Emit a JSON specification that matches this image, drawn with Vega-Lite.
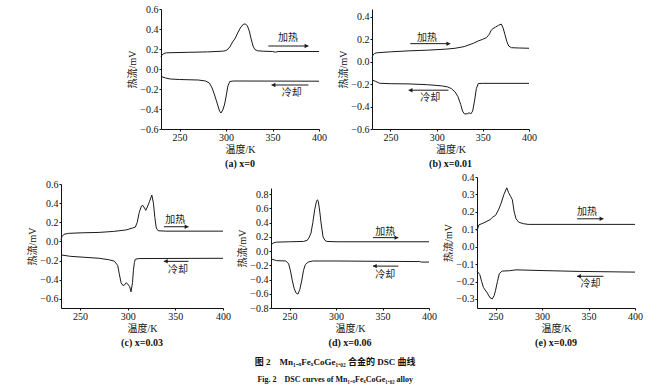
{
"$schema": "https://vega.github.io/schema/vega-lite/v6.json",
"padding": {"left": 27, "top": 4, "right": 5, "bottom": 2},
"config": {
  "font": "Liberation Serif",
  "view": {"stroke": null},
  "style": {"guide-label": {"font": "Liberation Serif"}, "guide-title": {"font": "Liberation Serif, Noto Sans CJK SC"}},
  "axis": {"labelFont": "Liberation Serif", "labelFontSize": 10, "labelColor": "#111", "titleFont": "Liberation Serif, Noto Sans CJK SC", "titleFontSize": 10, "titleFontWeight": "normal", "titleColor": "#111", "grid": false, "domainColor": "#111", "tickColor": "#111", "tickSize": 2, "labelPadding": 1, "titlePadding": 2, "labelFlush": false}
},
"title": {"text": "图 2　Mn₁₋ₓFeₓCoGe₁.₀₂ 合金的 DSC 曲线", "subtitle": "Fig. 2　DSC curves of Mn₁₋ₓFeₓCoGe₁.₀₂ alloy", "orient": "bottom", "anchor": "middle", "font": "Liberation Serif, Noto Sans CJK SC", "fontSize": 9, "fontWeight": "bold", "color": "#111", "subtitleFont": "Liberation Serif, Noto Sans CJK SC", "subtitleFontSize": 8, "subtitleFontWeight": "bold", "subtitleColor": "#111", "offset": 10, "subtitlePadding": 9},
"datasets": {
"curves": [
{"p":"a","c":"h","T":230,"v":0.12},{"p":"a","c":"h","T":231,"v":0.14},{"p":"a","c":"h","T":233,"v":0.155},{"p":"a","c":"h","T":236,"v":0.162},{"p":"a","c":"h","T":245,"v":0.164},{"p":"a","c":"h","T":260,"v":0.167},{"p":"a","c":"h","T":280,"v":0.171},{"p":"a","c":"h","T":296,"v":0.178},{"p":"a","c":"h","T":299,"v":0.182},{"p":"a","c":"h","T":301,"v":0.19},{"p":"a","c":"h","T":304,"v":0.22},{"p":"a","c":"h","T":307,"v":0.27},{"p":"a","c":"h","T":310,"v":0.31},{"p":"a","c":"h","T":313,"v":0.37},{"p":"a","c":"h","T":316,"v":0.42},{"p":"a","c":"h","T":319,"v":0.45},{"p":"a","c":"h","T":321,"v":0.45},{"p":"a","c":"h","T":323,"v":0.43},{"p":"a","c":"h","T":325,"v":0.38},{"p":"a","c":"h","T":327,"v":0.3},{"p":"a","c":"h","T":329,"v":0.23},{"p":"a","c":"h","T":331,"v":0.195},{"p":"a","c":"h","T":334,"v":0.182},{"p":"a","c":"h","T":340,"v":0.178},{"p":"a","c":"h","T":350,"v":0.175},{"p":"a","c":"h","T":353,"v":0.168},{"p":"a","c":"h","T":356,"v":0.175},{"p":"a","c":"h","T":400,"v":0.175},
{"p":"a","c":"k","T":230,"v":-0.075},{"p":"a","c":"k","T":235,"v":-0.09},{"p":"a","c":"k","T":240,"v":-0.1},{"p":"a","c":"k","T":250,"v":-0.105},{"p":"a","c":"k","T":270,"v":-0.11},{"p":"a","c":"k","T":278,"v":-0.12},{"p":"a","c":"k","T":282,"v":-0.14},{"p":"a","c":"k","T":285,"v":-0.19},{"p":"a","c":"k","T":288,"v":-0.27},{"p":"a","c":"k","T":291,"v":-0.36},{"p":"a","c":"k","T":293,"v":-0.42},{"p":"a","c":"k","T":294.5,"v":-0.44},{"p":"a","c":"k","T":296.5,"v":-0.41},{"p":"a","c":"k","T":298.5,"v":-0.35},{"p":"a","c":"k","T":300.5,"v":-0.25},{"p":"a","c":"k","T":302,"v":-0.17},{"p":"a","c":"k","T":304,"v":-0.125},{"p":"a","c":"k","T":308,"v":-0.12},{"p":"a","c":"k","T":400,"v":-0.122},
{"p":"b","c":"h","T":230,"v":0.03},{"p":"b","c":"h","T":231,"v":0.06},{"p":"b","c":"h","T":233,"v":0.075},{"p":"b","c":"h","T":236,"v":0.08},{"p":"b","c":"h","T":250,"v":0.088},{"p":"b","c":"h","T":270,"v":0.097},{"p":"b","c":"h","T":290,"v":0.103},{"p":"b","c":"h","T":310,"v":0.112},{"p":"b","c":"h","T":320,"v":0.12},{"p":"b","c":"h","T":330,"v":0.135},{"p":"b","c":"h","T":340,"v":0.165},{"p":"b","c":"h","T":345,"v":0.185},{"p":"b","c":"h","T":350,"v":0.2},{"p":"b","c":"h","T":354,"v":0.215},{"p":"b","c":"h","T":357,"v":0.245},{"p":"b","c":"h","T":359,"v":0.28},{"p":"b","c":"h","T":361,"v":0.295},{"p":"b","c":"h","T":364,"v":0.31},{"p":"b","c":"h","T":367,"v":0.325},{"p":"b","c":"h","T":370,"v":0.335},{"p":"b","c":"h","T":372,"v":0.3},{"p":"b","c":"h","T":374,"v":0.24},{"p":"b","c":"h","T":376,"v":0.18},{"p":"b","c":"h","T":378,"v":0.14},{"p":"b","c":"h","T":381,"v":0.125},{"p":"b","c":"h","T":390,"v":0.122},{"p":"b","c":"h","T":400,"v":0.12},
{"p":"b","c":"k","T":230,"v":-0.165},{"p":"b","c":"k","T":234,"v":-0.175},{"p":"b","c":"k","T":238,"v":-0.192},{"p":"b","c":"k","T":250,"v":-0.196},{"p":"b","c":"k","T":270,"v":-0.198},{"p":"b","c":"k","T":290,"v":-0.205},{"p":"b","c":"k","T":305,"v":-0.215},{"p":"b","c":"k","T":312,"v":-0.225},{"p":"b","c":"k","T":316,"v":-0.24},{"p":"b","c":"k","T":320,"v":-0.27},{"p":"b","c":"k","T":323,"v":-0.31},{"p":"b","c":"k","T":326,"v":-0.38},{"p":"b","c":"k","T":328,"v":-0.44},{"p":"b","c":"k","T":330,"v":-0.465},{"p":"b","c":"k","T":333,"v":-0.465},{"p":"b","c":"k","T":335,"v":-0.455},{"p":"b","c":"k","T":337,"v":-0.465},{"p":"b","c":"k","T":339,"v":-0.44},{"p":"b","c":"k","T":341,"v":-0.35},{"p":"b","c":"k","T":343,"v":-0.24},{"p":"b","c":"k","T":345,"v":-0.195},{"p":"b","c":"k","T":350,"v":-0.193},{"p":"b","c":"k","T":400,"v":-0.193},
{"p":"c","c":"h","T":230,"v":0.02},{"p":"c","c":"h","T":231,"v":0.05},{"p":"c","c":"h","T":233,"v":0.075},{"p":"c","c":"h","T":238,"v":0.085},{"p":"c","c":"h","T":250,"v":0.09},{"p":"c","c":"h","T":270,"v":0.095},{"p":"c","c":"h","T":285,"v":0.105},{"p":"c","c":"h","T":298,"v":0.12},{"p":"c","c":"h","T":305,"v":0.14},{"p":"c","c":"h","T":308,"v":0.15},{"p":"c","c":"h","T":310,"v":0.2},{"p":"c","c":"h","T":312,"v":0.3},{"p":"c","c":"h","T":314,"v":0.36},{"p":"c","c":"h","T":315.5,"v":0.38},{"p":"c","c":"h","T":317,"v":0.36},{"p":"c","c":"h","T":319,"v":0.325},{"p":"c","c":"h","T":321,"v":0.37},{"p":"c","c":"h","T":323,"v":0.42},{"p":"c","c":"h","T":325.3,"v":0.485},{"p":"c","c":"h","T":327,"v":0.4},{"p":"c","c":"h","T":328.5,"v":0.25},{"p":"c","c":"h","T":330,"v":0.14},{"p":"c","c":"h","T":332,"v":0.112},{"p":"c","c":"h","T":340,"v":0.108},{"p":"c","c":"h","T":400,"v":0.108},
{"p":"c","c":"k","T":230,"v":-0.14},{"p":"c","c":"k","T":240,"v":-0.155},{"p":"c","c":"k","T":255,"v":-0.165},{"p":"c","c":"k","T":270,"v":-0.175},{"p":"c","c":"k","T":280,"v":-0.19},{"p":"c","c":"k","T":286,"v":-0.205},{"p":"c","c":"k","T":289.5,"v":-0.25},{"p":"c","c":"k","T":291,"v":-0.33},{"p":"c","c":"k","T":293,"v":-0.43},{"p":"c","c":"k","T":295,"v":-0.46},{"p":"c","c":"k","T":297,"v":-0.45},{"p":"c","c":"k","T":298.5,"v":-0.43},{"p":"c","c":"k","T":300,"v":-0.445},{"p":"c","c":"k","T":302,"v":-0.47},{"p":"c","c":"k","T":303.5,"v":-0.525},{"p":"c","c":"k","T":305,"v":-0.43},{"p":"c","c":"k","T":306,"v":-0.3},{"p":"c","c":"k","T":307,"v":-0.22},{"p":"c","c":"k","T":308,"v":-0.185},{"p":"c","c":"k","T":312,"v":-0.178},{"p":"c","c":"k","T":400,"v":-0.175},
{"p":"d","c":"h","T":230,"v":0.09},{"p":"d","c":"h","T":233,"v":0.115},{"p":"d","c":"h","T":236,"v":0.125},{"p":"d","c":"h","T":250,"v":0.13},{"p":"d","c":"h","T":265,"v":0.135},{"p":"d","c":"h","T":269,"v":0.15},{"p":"d","c":"h","T":271,"v":0.19},{"p":"d","c":"h","T":273,"v":0.25},{"p":"d","c":"h","T":275,"v":0.4},{"p":"d","c":"h","T":277,"v":0.58},{"p":"d","c":"h","T":279,"v":0.7},{"p":"d","c":"h","T":280,"v":0.72},{"p":"d","c":"h","T":281,"v":0.69},{"p":"d","c":"h","T":282.5,"v":0.55},{"p":"d","c":"h","T":284,"v":0.38},{"p":"d","c":"h","T":286,"v":0.2},{"p":"d","c":"h","T":288,"v":0.15},{"p":"d","c":"h","T":290,"v":0.135},{"p":"d","c":"h","T":300,"v":0.13},{"p":"d","c":"h","T":400,"v":0.13},
{"p":"d","c":"k","T":230,"v":-0.11},{"p":"d","c":"k","T":236,"v":-0.135},{"p":"d","c":"k","T":246,"v":-0.14},{"p":"d","c":"k","T":249,"v":-0.18},{"p":"d","c":"k","T":251,"v":-0.28},{"p":"d","c":"k","T":253,"v":-0.42},{"p":"d","c":"k","T":255,"v":-0.53},{"p":"d","c":"k","T":257,"v":-0.59},{"p":"d","c":"k","T":259,"v":-0.605},{"p":"d","c":"k","T":261,"v":-0.54},{"p":"d","c":"k","T":263,"v":-0.42},{"p":"d","c":"k","T":265,"v":-0.27},{"p":"d","c":"k","T":267,"v":-0.19},{"p":"d","c":"k","T":270,"v":-0.155},{"p":"d","c":"k","T":275,"v":-0.14},{"p":"d","c":"k","T":300,"v":-0.14},{"p":"d","c":"k","T":350,"v":-0.145},{"p":"d","c":"k","T":390,"v":-0.148},{"p":"d","c":"k","T":392,"v":-0.155},{"p":"d","c":"k","T":400,"v":-0.155},
{"p":"e","c":"h","T":230,"v":0.09},{"p":"e","c":"h","T":232,"v":0.125},{"p":"e","c":"h","T":237,"v":0.136},{"p":"e","c":"h","T":244,"v":0.155},{"p":"e","c":"h","T":247,"v":0.17},{"p":"e","c":"h","T":250,"v":0.18},{"p":"e","c":"h","T":253,"v":0.21},{"p":"e","c":"h","T":256,"v":0.25},{"p":"e","c":"h","T":259,"v":0.3},{"p":"e","c":"h","T":262,"v":0.338},{"p":"e","c":"h","T":264,"v":0.31},{"p":"e","c":"h","T":266,"v":0.29},{"p":"e","c":"h","T":268,"v":0.27},{"p":"e","c":"h","T":270,"v":0.2},{"p":"e","c":"h","T":272,"v":0.16},{"p":"e","c":"h","T":275,"v":0.14},{"p":"e","c":"h","T":280,"v":0.132},{"p":"e","c":"h","T":285,"v":0.128},{"p":"e","c":"h","T":300,"v":0.128},{"p":"e","c":"h","T":400,"v":0.128},
{"p":"e","c":"k","T":230,"v":-0.14},{"p":"e","c":"k","T":233,"v":-0.16},{"p":"e","c":"k","T":235,"v":-0.2},{"p":"e","c":"k","T":237,"v":-0.235},{"p":"e","c":"k","T":241,"v":-0.265},{"p":"e","c":"k","T":244,"v":-0.293},{"p":"e","c":"k","T":246.5,"v":-0.3},{"p":"e","c":"k","T":248.5,"v":-0.28},{"p":"e","c":"k","T":250,"v":-0.25},{"p":"e","c":"k","T":252,"v":-0.2},{"p":"e","c":"k","T":254,"v":-0.155},{"p":"e","c":"k","T":257,"v":-0.14},{"p":"e","c":"k","T":265,"v":-0.138},{"p":"e","c":"k","T":272,"v":-0.133},{"p":"e","c":"k","T":300,"v":-0.137},{"p":"e","c":"k","T":340,"v":-0.142},{"p":"e","c":"k","T":400,"v":-0.146}
],
"ann": [
{"p":"a","k":"arrow","T":345.5,"T2":388.6,"v":0.23},{"p":"a","k":"head","T":386.6,"v":0.23,"shape":"triangle-right"},{"p":"a","k":"label","T":366.7,"v":0.31,"label":"加热"},
{"p":"a","k":"arrow","T":349,"T2":388.6,"v":-0.16},{"p":"a","k":"head","T":351,"v":-0.16,"shape":"triangle-left"},{"p":"a","k":"label","T":370.7,"v":-0.237,"label":"冷却"},
{"p":"b","k":"arrow","T":271.5,"T2":314.7,"v":0.161},{"p":"b","k":"head","T":312.7,"v":0.161,"shape":"triangle-right"},{"p":"b","k":"label","T":289.5,"v":0.215,"label":"加热"},
{"p":"b","k":"arrow","T":269.7,"T2":312.8,"v":-0.254},{"p":"b","k":"head","T":271.7,"v":-0.254,"shape":"triangle-left"},{"p":"b","k":"label","T":293,"v":-0.328,"label":"冷却"},
{"p":"c","k":"arrow","T":337.9,"T2":363.8,"v":0.154},{"p":"c","k":"head","T":361.8,"v":0.154,"shape":"triangle-right"},{"p":"c","k":"label","T":350,"v":0.225,"label":"加热"},
{"p":"c","k":"arrow","T":337.9,"T2":363.8,"v":-0.207},{"p":"c","k":"head","T":339.9,"v":-0.207,"shape":"triangle-left"},{"p":"c","k":"label","T":352.8,"v":-0.295,"label":"冷却"},
{"p":"d","k":"arrow","T":339.7,"T2":367,"v":0.188},{"p":"d","k":"head","T":365,"v":0.188,"shape":"triangle-right"},{"p":"d","k":"label","T":353,"v":0.273,"label":"加热"},
{"p":"d","k":"arrow","T":339.7,"T2":367,"v":-0.212},{"p":"d","k":"head","T":341.7,"v":-0.212,"shape":"triangle-left"},{"p":"d","k":"label","T":353,"v":-0.33,"label":"冷却"},
{"p":"e","k":"arrow","T":337.7,"T2":366,"v":0.16},{"p":"e","k":"head","T":364,"v":0.16,"shape":"triangle-right"},{"p":"e","k":"label","T":348.3,"v":0.2,"label":"加热"},
{"p":"e","k":"arrow","T":337.7,"T2":366,"v":-0.17},{"p":"e","k":"head","T":339.7,"v":-0.17,"shape":"triangle-left"},{"p":"e","k":"label","T":352,"v":-0.215,"label":"冷却"}
]
},
"spacing": 3,
"vconcat": [
{"hconcat": [
  {"width": 47, "height": 120, "data": {"values": []}, "mark": "text", "encoding": {}},
  {"width": 158, "height": 120,
   "title": {"text": "(a) x=0", "orient": "bottom", "anchor": "middle", "offset": 5, "font": "Liberation Serif", "fontSize": 10, "fontWeight": "bold", "color": "#111"},
   "encoding": {"x": {"field": "T", "type": "quantitative", "scale": {"domain": [230, 400], "nice": false, "zero": false}, "axis": {"title": "温度/K", "values": [250, 300, 350, 400], "format": "d", "labelFont": "Liberation Serif"}},
                "y": {"field": "v", "type": "quantitative", "scale": {"domain": [-0.6, 0.6], "nice": false, "zero": false}, "axis": {"title": "热流/mV", "values": [-0.6, -0.4, -0.2, 0, 0.2, 0.4, 0.6], "format": ".1f", "labelFont": "Liberation Serif"}}},
   "layer": [
    {"data": {"name": "curves"}, "transform": [{"filter": "datum.p=='a'"}], "mark": {"type": "line", "color": "#1a1a1a", "strokeWidth": 1}, "encoding": {"detail": {"field": "c"}}},
    {"data": {"name": "ann"}, "transform": [{"filter": "datum.p=='a' && datum.k=='arrow'"}], "mark": {"type": "rule", "color": "#1a1a1a", "strokeWidth": 1}, "encoding": {"x2": {"field": "T2"}}},
    {"data": {"name": "ann"}, "transform": [{"filter": "datum.p=='a' && datum.k=='head'"}], "mark": {"type": "point", "filled": true, "color": "#1a1a1a", "opacity": 1, "size": 20}, "encoding": {"shape": {"field": "shape", "type": "nominal", "scale": null}}},
    {"data": {"name": "ann"}, "transform": [{"filter": "datum.p=='a' && datum.k=='label'"}], "mark": {"type": "text", "font": "Noto Sans CJK SC", "fontSize": 10, "color": "#1a1a1a"}, "encoding": {"text": {"field": "label"}}}
   ]},
  {"width": 157, "height": 120,
   "title": {"text": "(b) x=0.01", "orient": "bottom", "anchor": "middle", "offset": 5, "font": "Liberation Serif", "fontSize": 10, "fontWeight": "bold", "color": "#111"},
   "encoding": {"x": {"field": "T", "type": "quantitative", "scale": {"domain": [230, 400], "nice": false, "zero": false}, "axis": {"title": "温度/K", "values": [250, 300, 350, 400], "format": "d", "labelFont": "Liberation Serif"}},
                "y": {"field": "v", "type": "quantitative", "scale": {"domain": [-0.6, 0.47], "nice": false, "zero": false}, "axis": {"title": "热流/mV", "values": [-0.6, -0.4, -0.2, 0, 0.2, 0.4], "format": ".1f", "labelFont": "Liberation Serif"}}},
   "layer": [
    {"data": {"name": "curves"}, "transform": [{"filter": "datum.p=='b'"}], "mark": {"type": "line", "color": "#1a1a1a", "strokeWidth": 1}, "encoding": {"detail": {"field": "c"}}},
    {"data": {"name": "ann"}, "transform": [{"filter": "datum.p=='b' && datum.k=='arrow'"}], "mark": {"type": "rule", "color": "#1a1a1a", "strokeWidth": 1}, "encoding": {"x2": {"field": "T2"}}},
    {"data": {"name": "ann"}, "transform": [{"filter": "datum.p=='b' && datum.k=='head'"}], "mark": {"type": "point", "filled": true, "color": "#1a1a1a", "opacity": 1, "size": 20}, "encoding": {"shape": {"field": "shape", "type": "nominal", "scale": null}}},
    {"data": {"name": "ann"}, "transform": [{"filter": "datum.p=='b' && datum.k=='label'"}], "mark": {"type": "text", "font": "Noto Sans CJK SC", "fontSize": 10, "color": "#1a1a1a"}, "encoding": {"text": {"field": "label"}}}
   ]}
 ], "spacing": 53, "bounds": "flush"},
{"hconcat": [
  {"width": 162, "height": 131,
   "title": {"text": "(c) x=0.03", "orient": "bottom", "anchor": "middle", "offset": 5, "font": "Liberation Serif", "fontSize": 10, "fontWeight": "bold", "color": "#111"},
   "encoding": {"x": {"field": "T", "type": "quantitative", "scale": {"domain": [230, 400], "nice": false, "zero": false}, "axis": {"title": "温度/K", "values": [250, 300, 350, 400], "format": "d", "labelFont": "Liberation Serif"}},
                "y": {"field": "v", "type": "quantitative", "scale": {"domain": [-0.694, 0.6], "range": [131, 7], "nice": false, "zero": false}, "axis": {"title": "热流/mV", "values": [-0.6, -0.4, -0.2, 0, 0.2, 0.4, 0.6], "format": ".1f", "labelFont": "Liberation Serif"}}},
   "layer": [
    {"data": {"name": "curves"}, "transform": [{"filter": "datum.p=='c'"}], "mark": {"type": "line", "color": "#1a1a1a", "strokeWidth": 1}, "encoding": {"detail": {"field": "c"}}},
    {"data": {"name": "ann"}, "transform": [{"filter": "datum.p=='c' && datum.k=='arrow'"}], "mark": {"type": "rule", "color": "#1a1a1a", "strokeWidth": 1}, "encoding": {"x2": {"field": "T2"}}},
    {"data": {"name": "ann"}, "transform": [{"filter": "datum.p=='c' && datum.k=='head'"}], "mark": {"type": "point", "filled": true, "color": "#1a1a1a", "opacity": 1, "size": 20}, "encoding": {"shape": {"field": "shape", "type": "nominal", "scale": null}}},
    {"data": {"name": "ann"}, "transform": [{"filter": "datum.p=='c' && datum.k=='label'"}], "mark": {"type": "text", "font": "Noto Sans CJK SC", "fontSize": 10, "color": "#1a1a1a"}, "encoding": {"text": {"field": "label"}}}
   ]},
  {"width": 158, "height": 131,
   "title": {"text": "(d) x=0.06", "orient": "bottom", "anchor": "middle", "offset": 5, "font": "Liberation Serif", "fontSize": 10, "fontWeight": "bold", "color": "#111"},
   "encoding": {"x": {"field": "T", "type": "quantitative", "scale": {"domain": [230, 400], "nice": false, "zero": false}, "axis": {"title": "温度/K", "values": [250, 300, 350, 400], "format": "d", "labelFont": "Liberation Serif"}},
                "y": {"field": "v", "type": "quantitative", "scale": {"domain": [-0.8, 0.885], "range": [131, 11], "nice": false, "zero": false}, "axis": {"title": "热流/mV", "values": [-0.8, -0.6, -0.4, -0.2, 0, 0.2, 0.4, 0.6, 0.8], "format": ".1f", "labelFont": "Liberation Serif"}}},
   "layer": [
    {"data": {"name": "curves"}, "transform": [{"filter": "datum.p=='d'"}], "mark": {"type": "line", "color": "#1a1a1a", "strokeWidth": 1}, "encoding": {"detail": {"field": "c"}}},
    {"data": {"name": "ann"}, "transform": [{"filter": "datum.p=='d' && datum.k=='arrow'"}], "mark": {"type": "rule", "color": "#1a1a1a", "strokeWidth": 1}, "encoding": {"x2": {"field": "T2"}}},
    {"data": {"name": "ann"}, "transform": [{"filter": "datum.p=='d' && datum.k=='head'"}], "mark": {"type": "point", "filled": true, "color": "#1a1a1a", "opacity": 1, "size": 20}, "encoding": {"shape": {"field": "shape", "type": "nominal", "scale": null}}},
    {"data": {"name": "ann"}, "transform": [{"filter": "datum.p=='d' && datum.k=='label'"}], "mark": {"type": "text", "font": "Noto Sans CJK SC", "fontSize": 10, "color": "#1a1a1a"}, "encoding": {"text": {"field": "label"}}}
   ]},
  {"width": 158, "height": 131,
   "title": {"text": "(e) x=0.09", "orient": "bottom", "anchor": "middle", "offset": 5, "font": "Liberation Serif", "fontSize": 10, "fontWeight": "bold", "color": "#111"},
   "encoding": {"x": {"field": "T", "type": "quantitative", "scale": {"domain": [230, 400], "nice": false, "zero": false}, "axis": {"title": "温度/K", "values": [250, 300, 350, 400], "format": "d", "labelFont": "Liberation Serif"}},
                "y": {"field": "v", "type": "quantitative", "scale": {"domain": [-0.352, 0.4], "nice": false, "zero": false}, "axis": {"title": "热流/mV", "values": [-0.3, -0.2, -0.1, 0, 0.1, 0.2, 0.3, 0.4], "format": ".1f", "labelFont": "Liberation Serif"}}},
   "layer": [
    {"data": {"name": "curves"}, "transform": [{"filter": "datum.p=='e'"}], "mark": {"type": "line", "color": "#1a1a1a", "strokeWidth": 1}, "encoding": {"detail": {"field": "c"}}},
    {"data": {"name": "ann"}, "transform": [{"filter": "datum.p=='e' && datum.k=='arrow'"}], "mark": {"type": "rule", "color": "#1a1a1a", "strokeWidth": 1}, "encoding": {"x2": {"field": "T2"}}},
    {"data": {"name": "ann"}, "transform": [{"filter": "datum.p=='e' && datum.k=='head'"}], "mark": {"type": "point", "filled": true, "color": "#1a1a1a", "opacity": 1, "size": 20}, "encoding": {"shape": {"field": "shape", "type": "nominal", "scale": null}}},
    {"data": {"name": "ann"}, "transform": [{"filter": "datum.p=='e' && datum.k=='label'"}], "mark": {"type": "text", "font": "Noto Sans CJK SC", "fontSize": 10, "color": "#1a1a1a"}, "encoding": {"text": {"field": "label"}}}
   ]}
 ], "spacing": 48, "bounds": "flush"}
]
}
